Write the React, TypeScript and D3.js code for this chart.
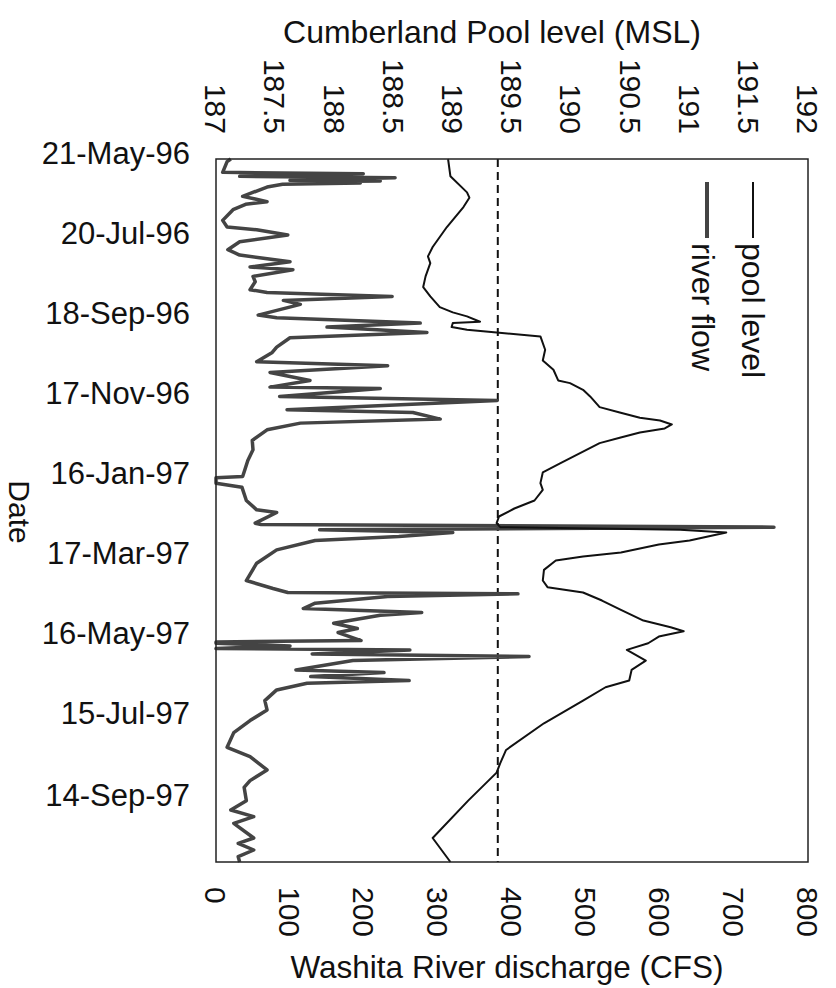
import * as d3 from "d3";

// date axis (the chart is drawn rotated: time runs top to bottom)
const startLabel = "21-May-96";
const spanDays = 527;
const dateTickLabels = [
  "21-May-96", "20-Jul-96", "18-Sep-96", "17-Nov-96", "16-Jan-97",
  "17-Mar-97", "16-May-97", "15-Jul-97", "14-Sep-97",
];
const poolTicks = [187, 187.5, 188, 188.5, 189, 189.5, 190, 190.5, 191, 191.5, 192];
const flowTicks = [0, 100, 200, 300, 400, 500, 600, 700, 800];

// reference pool elevation (dashed line)
const referenceLevel = 189.38;

// [days after 21-May-96, pool level MSL]
const poolLevel: [number, number][] = [
  [0, 188.96], [13, 188.98], [25, 189.12], [29, 189.14], [36, 189.09], [51, 188.95],
  [66, 188.83], [73, 188.79], [78, 188.81], [88, 188.77], [96, 188.75], [103, 188.81],
  [111, 188.89], [115, 189.0], [118, 189.12], [122, 189.23], [123, 189.0], [126, 188.99],
  [128, 189.12], [130, 189.37], [133, 189.74], [143, 189.78], [151, 189.76], [158, 189.85],
  [166, 189.89], [168, 189.99], [173, 190.1], [178, 190.16], [186, 190.24], [190, 190.41],
  [194, 190.58], [196, 190.75], [199, 190.85], [202, 190.79], [205, 190.58], [209, 190.41],
  [213, 190.24], [228, 189.91], [235, 189.76], [243, 189.74], [248, 189.76], [256, 189.69],
  [262, 189.52], [268, 189.39], [273, 189.37], [276, 189.4], [278, 190.92], [280, 191.31],
  [286, 191.0], [289, 190.74], [295, 190.42], [298, 190.1], [301, 189.87], [308, 189.77],
  [316, 189.76], [321, 189.8], [325, 190.1], [331, 190.26], [338, 190.42], [346, 190.61],
  [351, 190.84], [354, 190.95], [358, 190.74], [363, 190.65], [368, 190.47], [376, 190.63],
  [383, 190.51], [391, 190.49], [396, 190.29], [406, 190.1], [423, 189.77], [443, 189.45],
  [453, 189.4], [460, 189.37], [481, 189.13], [509, 188.83], [527, 188.98],
];

// [days after 21-May-96, discharge CFS]
const riverFlow: [number, number][] = [
  [0, 20], [2, 15], [10, 9], [11, 199], [13, 32], [14, 242], [16, 100], [16.5, 222],
  [17, 114], [18, 195], [19, 90], [21, 69], [28, 36], [30, 53], [32, 69], [34, 40],
  [38, 23], [46, 9], [51, 15], [53, 55], [57, 97], [62, 32], [68, 16], [72, 32],
  [74, 59], [77, 100], [81, 46], [83, 104], [88, 50], [92, 53], [98, 46], [100, 69],
  [103, 238], [106, 91], [109, 114], [117, 57], [119, 82], [123, 276], [126, 150],
  [130, 285], [134, 100], [141, 82], [145, 76], [152, 55], [155, 232], [160, 73],
  [166, 127], [171, 73], [172, 222], [178, 86], [181, 380], [188, 96], [190, 266],
  [195, 303], [198, 114], [203, 69], [211, 49], [218, 50], [226, 43], [233, 39],
  [238, 36], [239, 0], [243, 0], [246, 35], [256, 41], [263, 55], [265, 82], [273, 53],
  [274, 61], [276, 754], [278, 140], [280, 320], [283, 247], [286, 134], [293, 82],
  [303, 55], [316, 41], [322, 77], [325, 97], [326, 408], [328, 232], [333, 134],
  [337, 118], [340, 278], [342, 222], [348, 159], [352, 191], [355, 165], [361, 196],
  [362, 0], [363, 0], [365, 100], [367, 0], [368, 262], [371, 130], [373, 423],
  [376, 185], [383, 108], [385, 227], [388, 128], [391, 261], [393, 123], [398, 82],
  [406, 66], [413, 69], [421, 46], [430, 24], [441, 15], [448, 46], [458, 69],
  [466, 46], [471, 38], [481, 41], [488, 20], [493, 51], [498, 24], [509, 51],
  [513, 30], [518, 51], [523, 30], [527, 32],
];

const W = 836, H = 988;
const plot = { left: 216, right: 808, top: 159, bottom: 862 };
const font = "'Liberation Sans', Arial, sans-serif";

const parseDate = d3.utcParse("%d-%b-%y");
const start = parseDate(startLabel) as Date;
const dayToDate = (d: number) => new Date(start.getTime() + d * 864e5);

export default function App() {
  const y = d3.scaleUtc()
    .domain([start, dayToDate(spanDays)])
    .range([plot.top, plot.bottom]);
  const xPool = d3.scaleLinear().domain([187, 192]).range([plot.left, plot.right]);
  const xFlow = d3.scaleLinear().domain([0, 800]).range([plot.left, plot.right]);

  const poolLine = d3.line<[number, number]>()
    .x((d) => xPool(d[1]))
    .y((d) => y(dayToDate(d[0])));
  const flowLine = d3.line<[number, number]>()
    .x((d) => xFlow(d[1]))
    .y((d) => y(dayToDate(d[0])));

  return (
    <svg width={W} height={H} style={{ position: "absolute", left: 0, top: 0, background: "#fff" }}
      fontFamily={font} fill="#111">
      {/* top axis: pool level */}
      <text x={492} y={43} fontSize={32} textAnchor="middle">Cumberland Pool level (MSL)</text>
      {poolTicks.map((t) => (
        <text key={t} transform={`translate(${xPool(t)},134) rotate(90)`} dy="0.36em"
          fontSize={30} textAnchor="end">{t}</text>
      ))}

      {/* bottom axis: discharge */}
      {flowTicks.map((t) => (
        <text key={t} transform={`translate(${xFlow(t)},887) rotate(90)`} dy="0.36em"
          fontSize={30} textAnchor="start">{t}</text>
      ))}
      <text x={507} y={978} fontSize={31.5} textAnchor="middle">Washita River discharge (CFS)</text>

      {/* date axis */}
      {dateTickLabels.map((l) => (
        <text key={l} x={190} y={y(parseDate(l) as Date) + 5} fontSize={31} textAnchor="end">{l}</text>
      ))}
      <text transform="translate(9,512) rotate(90)" fontSize={30} textAnchor="middle">Date</text>

      {/* reference level */}
      <line x1={xPool(referenceLevel)} x2={xPool(referenceLevel)} y1={plot.top} y2={plot.bottom}
        stroke="#111" strokeWidth={2} strokeDasharray="8,5" />

      <path d={flowLine(riverFlow) ?? ""} fill="none" stroke="#444" strokeWidth={3.5}
        strokeLinejoin="round" />
      <path d={poolLine(poolLevel) ?? ""} fill="none" stroke="#111" strokeWidth={2}
        strokeLinejoin="round" />

      <rect x={plot.left} y={plot.top} width={plot.right - plot.left} height={plot.bottom - plot.top}
        fill="none" stroke="#222" strokeWidth={1.5} />

      {/* legend */}
      <line x1={753} x2={753} y1={182} y2={238} stroke="#111" strokeWidth={2} />
      <text transform="translate(742,243) rotate(90)" fontSize={32}>pool level</text>
      <line x1={707} x2={707} y1={182} y2={238} stroke="#444" strokeWidth={4} />
      <text transform="translate(692,243) rotate(90)" fontSize={32}>river flow</text>
    </svg>
  );
}
